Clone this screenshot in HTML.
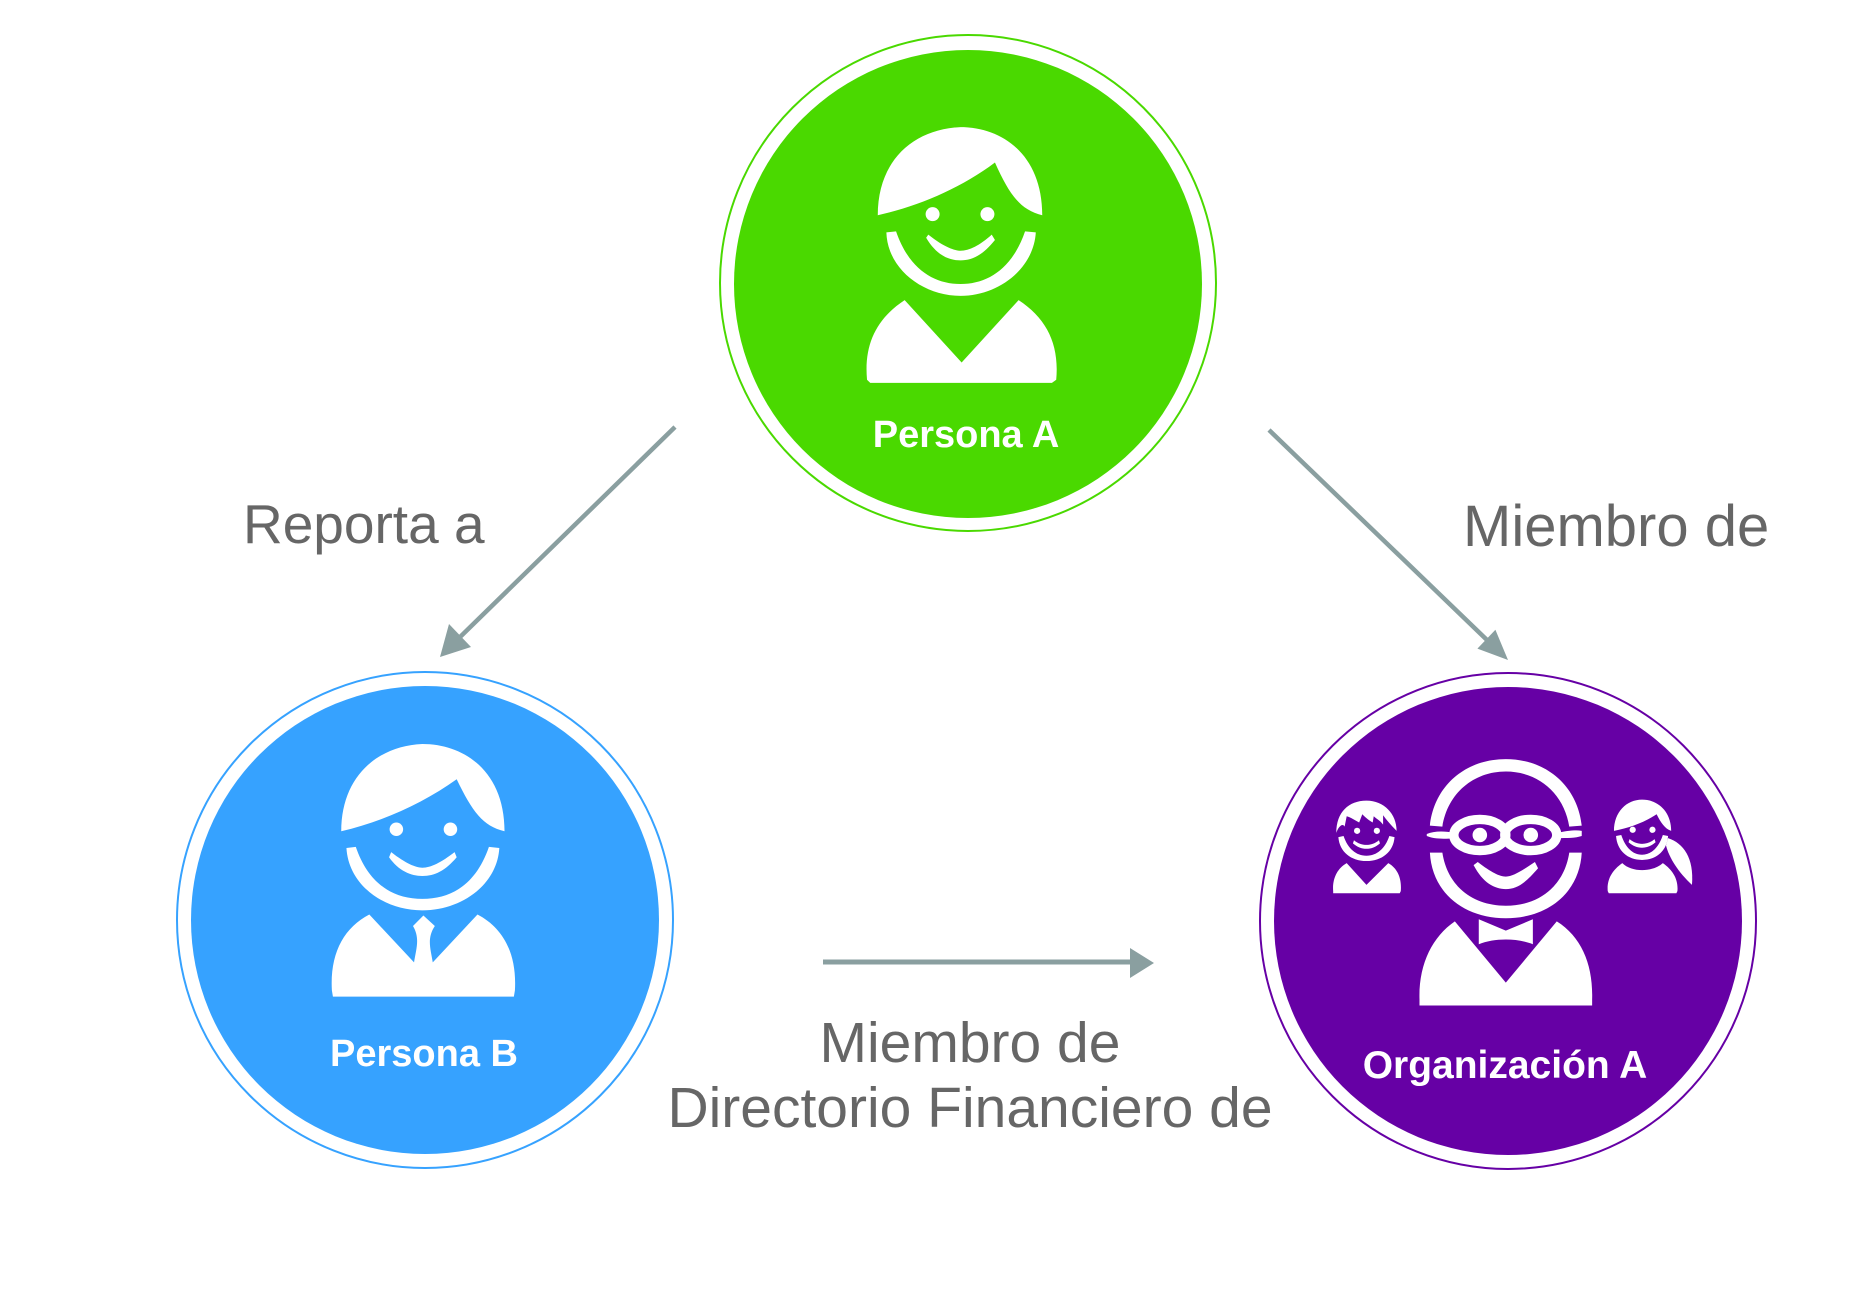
<!DOCTYPE html>
<html><head><meta charset="utf-8"><style>
html,body{margin:0;padding:0;background:#fff;}
svg{display:block;}
text{font-family:"Liberation Sans",sans-serif;}
</style></head><body>
<svg width="1850" height="1308" viewBox="0 0 1850 1308" xmlns="http://www.w3.org/2000/svg">

<!-- connectors -->
<line x1="675" y1="427" x2="458" y2="639" stroke="#8a9fa0" stroke-width="4.5"/>
<polygon points="440,657 449,624 471,647" fill="#8a9fa0"/>
<line x1="1269" y1="430" x2="1487" y2="640" stroke="#8a9fa0" stroke-width="4.5"/>
<polygon points="1508,660 1477.4,648.6 1495.4,629.8" fill="#8a9fa0"/>
<line x1="823" y1="962" x2="1133" y2="962" stroke="#8a9fa0" stroke-width="5"/>
<polygon points="1154,963 1130,948 1130,978" fill="#8a9fa0"/>

<!-- edge labels -->
<g fill="#666">
<text x="243" y="543" font-size="55">Reporta a</text>
<text x="1463" y="546" font-size="58">Miembro de</text>
<text x="970" y="1062" text-anchor="middle" font-size="57">Miembro de</text>
<text x="970" y="1127" text-anchor="middle" font-size="57">Directorio Financiero de</text>
</g>

<!-- Persona A -->
<circle cx="968" cy="283" r="248" fill="none" stroke="#4ad900" stroke-width="2"/>
<circle cx="968" cy="284" r="234" fill="#4ad900"/>
<g fill="#fff" transform="translate(967,255) scale(1.075) translate(-956,-237)">
<path d="M873,200 C873,150 905,120 950,118 C990,118 1026,145 1026,200 C1005,195 995,180 982,151 C950,175 910,192 873,200 Z"/>
<path d="M881,216 L890,215 C902,250 925,264 950,264 C975,264 998,250 1010,215 L1020,216 C1018,250 985,275 950,275 C915,275 882,250 881,216 Z"/>
<circle cx="924" cy="199" r="6.5"/><circle cx="975" cy="199" r="6.5"/>
<path d="M918,221 L920,218 C935,230 945,233 950,233 C958,233 968,228 979,218 L982,223 C970,238 960,242 950,242 C940,242 928,238 918,221 Z"/>
<path d="M898,279 L951,337 L1004,279 C1030,296 1042,320 1039,353 L1035,356 L866,356 L863,353 C860,320 872,296 898,279 Z"/>
</g>
<text x="966" y="447" text-anchor="middle" fill="#fff" font-size="38" font-weight="bold">Persona A</text>

<!-- Persona B -->
<circle cx="425" cy="920" r="248" fill="none" stroke="#36a2ff" stroke-width="2"/>
<circle cx="425" cy="920" r="234" fill="#36a2ff"/>
<g fill="#fff" transform="translate(426,875.5) scale(1.04) translate(-417.5,-869.5)">
<path d="M336,827 C336,775 370,745 414,743 C455,743 493,770 493,827 C472,822 462,808 447,777 C415,800 375,818 336,827 Z"/>
<path d="M341,843 L350,842 C362,877 385,892 414,892 C443,892 466,877 478,842 L488,843 C486,878 452,903 414,903 C376,903 343,878 341,843 Z"/>
<circle cx="389" cy="825" r="6.5"/><circle cx="441" cy="825" r="6.5"/>
<path d="M382,852 L384,847 C398,858 408,862 414,862 C422,862 432,857 445,847 L447,852 C436,865 426,870 414,870 C403,870 391,865 382,852 Z"/>
<path d="M363,907 L406,953 C408,940 412,930 405,918 L415,908 L426,918 C418,930 422,940 424,953 L467,907 C492,920 505,945 503,980 L502,986 L328,986 L327,980 C325,945 338,920 363,907 Z"/>
</g>
<text x="424" y="1066" text-anchor="middle" fill="#fff" font-size="38" font-weight="bold">Persona B</text>

<!-- Organización A -->
<circle cx="1508" cy="921" r="248" fill="none" stroke="#6600a5" stroke-width="2"/>
<circle cx="1508" cy="921" r="234" fill="#6600a5"/>
<g transform="translate(1521,887) scale(1.04) translate(-1513.6,-880)">
<g fill="#fff">
<path d="M1426,821 C1430,783 1460,757 1499,757 C1538,757 1568,783 1572,821 L1560,822 C1555,790 1530,769 1499,769 C1468,769 1443,790 1438,822 Z"/>
<path d="M1426,847 L1438,847 C1443,880 1468,898 1499,898 C1530,898 1555,880 1560,847 L1572,847 C1570,885 1540,910 1499,910 C1458,910 1428,885 1426,847 Z"/>
</g>
<g fill="none" stroke="#fff" stroke-width="9">
<ellipse cx="1474" cy="830" rx="25" ry="15"/>
<ellipse cx="1523" cy="830" rx="25" ry="15"/>
</g>
<g fill="#fff">
<path d="M1423,829 C1430,826 1440,826 1450,828 L1450,833 C1440,834 1430,834 1423,831 Z"/>
<path d="M1548,828 C1558,826 1566,825 1572,826 L1572,831 C1566,833 1558,833 1548,833 Z"/>
<circle cx="1474" cy="830" r="7"/><circle cx="1523" cy="830" r="7"/>
<path d="M1468,859 L1472,856 C1485,866 1493,870 1499,870 C1506,870 1515,864 1527,856 L1530,862 C1518,876 1510,882 1499,882 C1488,882 1477,876 1468,859 Z"/>
<path d="M1450,913 L1499,972 L1548,913 C1572,928 1583,955 1582,988 L1582,994 L1416,994 L1416,988 C1415,955 1428,928 1450,913 Z"/>
<path d="M1473,911 L1499,922 L1525,911 L1525,935 C1510,929 1488,929 1473,935 Z" />
<path d="M1336,828 C1336,808 1348,797 1365,797 C1382,797 1394,810 1394,826 C1388,820 1384,815 1381,811 L1381,820 C1378,816 1374,814 1372,812 L1371,818 C1366,815 1363,812 1361,810 L1358,818 C1354,816 1350,813 1346,812 L1344,822 C1342,818 1338,822 1336,828 Z"/>
<path d="M1338,832 L1343,831 C1347,843 1355,850 1365,850 C1375,850 1383,843 1387,831 L1392,832 C1391,846 1380,855 1365,855 C1350,855 1339,846 1338,832 Z"/>
<circle cx="1356" cy="826" r="3"/><circle cx="1375" cy="826" r="3"/>
<path d="M1353,835 C1360,841 1370,841 1377,835 L1378,838 C1370,845 1360,845 1352,838 Z"/>
<path d="M1346,857 L1365,878 L1386,857 C1395,862 1399,872 1398,884 L1397,886 L1333,886 L1333,884 C1332,872 1337,862 1346,857 Z"/>
<path d="M1603,826 C1603,808 1615,796 1630,796 C1646,796 1658,808 1658,826 C1652,824 1648,818 1644,810 C1632,818 1618,823 1603,826 Z"/>
<path d="M1605,831 L1610,830 C1614,842 1621,849 1630,849 C1639,849 1646,842 1650,830 L1655,831 C1654,845 1644,854 1630,854 C1616,854 1606,845 1605,831 Z"/>
<circle cx="1621" cy="825" r="3"/><circle cx="1640" cy="825" r="3"/>
<path d="M1618,834 C1625,840 1635,840 1642,834 L1643,837 C1635,844 1625,844 1617,837 Z"/>
<path d="M1655,833 C1670,838 1680,852 1678,878 C1665,866 1656,852 1653,840 Z"/>
<path d="M1611,857 C1620,866 1640,866 1650,857 C1660,864 1665,873 1664,884 L1663,886 L1598,886 L1597,884 C1596,873 1601,864 1611,857 Z"/>
</g>
</g>
<text x="1505" y="1078" text-anchor="middle" fill="#fff" font-size="39" font-weight="bold">Organización A</text>
</svg>
</body></html>
